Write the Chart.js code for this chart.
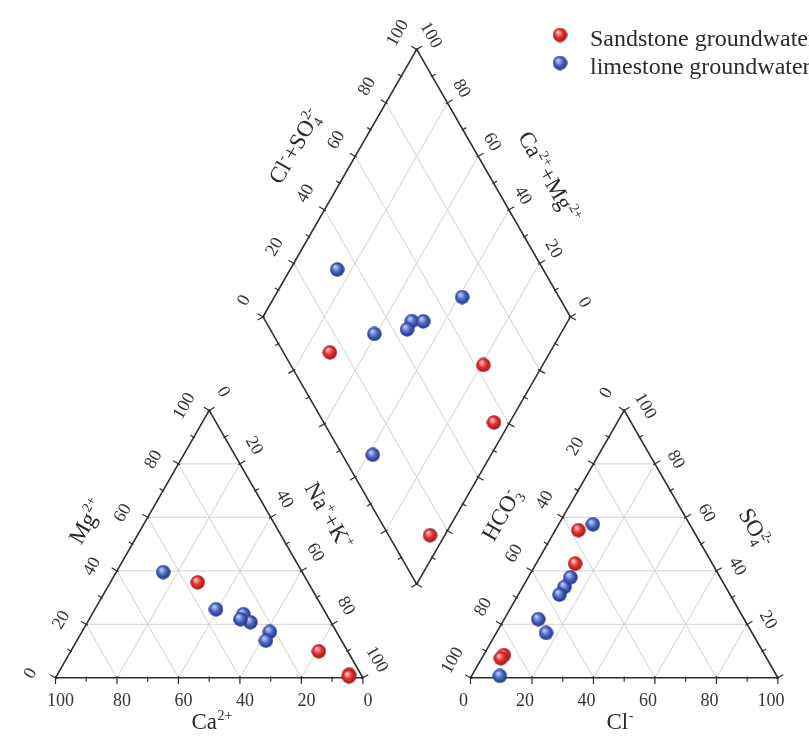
<!DOCTYPE html>
<html>
<head>
<meta charset="utf-8">
<script src="https://cdn.jsdelivr.net/npm/chart.js@4.4.0/dist/chart.umd.min.js"></script>
<style>
html,body{margin:0;padding:0;background:#fff;overflow:hidden}
#wrap{width:809px;height:742px;position:relative}
</style>
</head>
<body>
<div id="wrap"><canvas id="c" width="809" height="742"></canvas></div>
<script>
// ---------------- DATA (meq %) ----------------
const seriesNames = ['Sandstone groundwater', 'limestone groundwater'];
// Sandstone groundwater samples
const sandCa   = [35.9, 9.4, 3.9, 4.3];
const sandMg   = [35.7, 9.9, 1.2, 0.5];
const sandNaK  = [28.4, 80.7, 94.9, 95.2];
const sandHCO3 = [84.9, 37.3, 44.6, 86.5];
const sandCl   = [6.6, 7.5, 12.7, 6.2];
const sandSO4  = [8.5, 55.2, 42.7, 7.3];
// Limestone groundwater samples
const limeCa   = [45.2, 21.7, 27.0, 26.2, 28.9, 35.0, 24.6];
const limeMg   = [39.5, 17.2, 23.8, 20.8, 21.9, 25.6, 13.9];
const limeNaK  = [15.3, 61.1, 49.2, 53.0, 49.2, 39.4, 61.5];
const limeHCO3 = [67.0, 31.5, 52.4, 48.7, 55.5, 67.0, 90.1];
const limeCl   = [11.1, 11.1, 13.6, 13.7, 13.4, 16.2, 9.2];
const limeSO4  = [21.9, 57.4, 34.0, 37.6, 31.1, 16.8, 0.7];
// Axis ticks
const gridSteps = [20, 40, 60, 80];
const tickSteps = [0, 10, 20, 30, 40, 50, 60, 70, 80, 90, 100];
const labelTicks = [0, 20, 40, 60, 80, 100];
const so4LabelTicks = [20, 40, 60, 80, 100];

// ---------------- GEOMETRY (ternary -> plot units) ----------------
const S3 = Math.sqrt(3) / 2;
const GAP = 35;
function cat(ca, mg, na) { const t = ca + mg + na; mg = mg / t * 100; na = na / t * 100; return {x: na + mg / 2, y: mg * S3}; }
function ani(hco3, cl, so4) { const t = hco3 + cl + so4; cl = cl / t * 100; so4 = so4 / t * 100; return {x: 100 + GAP + cl + so4 / 2, y: so4 * S3}; }
const DB = {x: 100 + GAP / 2, y: GAP * S3};
function dia(camg, clso4) { return {x: DB.x + (clso4 - camg) / 2, y: DB.y + (camg + clso4) * S3}; }

function samplePoints(Ca, Mg, NaK, HCO3, Cl, SO4) {
  const pts = [];
  for (let i = 0; i < Ca.length; i++) pts.push(cat(Ca[i], Mg[i], NaK[i]));
  for (let i = 0; i < Ca.length; i++) pts.push(ani(HCO3[i], Cl[i], SO4[i]));
  for (let i = 0; i < Ca.length; i++) {
    const tc = Ca[i] + Mg[i] + NaK[i], ta = HCO3[i] + Cl[i] + SO4[i];
    pts.push(dia((Ca[i] + Mg[i]) / tc * 100, (Cl[i] + SO4[i]) / ta * 100));
  }
  return pts;
}
const BREAK = () => ({x: null, y: null});

// grid lines
const gridData = [];
function seg(arr, a, b) { arr.push(a, b, BREAK()); }
gridSteps.forEach(g => {
  seg(gridData, cat(100 - g, g, 0), cat(0, g, 100 - g));
  seg(gridData, cat(100 - g, 0, g), cat(0, 100 - g, g));
  seg(gridData, cat(g, 0, 100 - g), cat(g, 100 - g, 0));
  seg(gridData, ani(100 - g, 0, g), ani(0, 100 - g, g));
  seg(gridData, ani(100 - g, g, 0), ani(0, g, 100 - g));
  seg(gridData, ani(g, 100 - g, 0), ani(g, 0, 100 - g));
  seg(gridData, dia(g, 0), dia(g, 100));
  seg(gridData, dia(0, g), dia(100, g));
});

// outlines
const outlineData = [
  cat(100, 0, 0), cat(0, 0, 100), cat(0, 100, 0), cat(100, 0, 0), BREAK(),
  ani(100, 0, 0), ani(0, 100, 0), ani(0, 0, 100), ani(100, 0, 0), BREAK(),
  dia(0, 0), dia(0, 100), dia(100, 100), dia(100, 0), dia(0, 0)
];

// axes (position along edge as a function of axis value)
const catC = cat(1, 1, 1), aniC = ani(1, 1, 1), diaC = dia(50, 50);
const R60 = Math.PI / 3;
const axes = [
  {pos: t => cat(t, 0, 100 - t), c: catC, labels: labelTicks, off: [5, 22], rot: 0},          // Ca
  {pos: t => cat(100 - t, t, 0), c: catC, labels: labelTicks, off: [-26, -5], rot: -R60},     // Mg
  {pos: t => cat(0, 100 - t, t), c: catC, labels: labelTicks, off: [15, -19], rot: R60},      // Na+K
  {pos: t => ani(100 - t, t, 0), c: aniC, labels: labelTicks, off: [-7, 22], rot: 0},         // Cl
  {pos: t => ani(t, 0, 100 - t), c: aniC, labels: labelTicks, off: [-19, -18], rot: -R60},    // HCO3
  {pos: t => ani(0, 100 - t, t), c: aniC, labels: so4LabelTicks, off: [22, -5], rot: R60},    // SO4
  {pos: t => dia(100, t), c: diaC, labels: labelTicks, off: [-20, -17], rot: -R60},           // Cl+SO4
  {pos: t => dia(t, 100), c: diaC, labels: labelTicks, off: [15, -15], rot: R60},             // Ca+Mg
  {pos: t => dia(t, 0), c: diaC, labels: [], off: [0, 0], rot: 0},
  {pos: t => dia(0, t), c: diaC, labels: [], off: [0, 0], rot: 0}
];
const tickData = [];
axes.forEach(ax => {
  const a = ax.pos(0), b = ax.pos(100);
  const L = Math.hypot(b.x - a.x, b.y - a.y);
  const d = {x: (b.x - a.x) / L, y: (b.y - a.y) / L};
  tickSteps.forEach(t => {
    const p = ax.pos(t);
    let n = {x: -d.y, y: d.x};
    if (n.x * (p.x - ax.c.x) + n.y * (p.y - ax.c.y) < 0) n = {x: -n.x, y: -n.y};
    const major = t % 20 === 0;
    const o = major ? 2.0 : 1.3, i = major ? 0.6 : 0.4;
    seg(tickData, {x: p.x - n.x * i, y: p.y - n.y * i}, {x: p.x + n.x * o, y: p.y + n.y * o});
  });
});

// axis titles: anchor (plot units), pixel offset, rotation, rich runs
const titles = [
  {a: cat(50, 0, 50), off: [3, 44], rot: 0, runs: [['Ca'], ['2+', 'sup']]},
  {a: cat(50, 50, 0), off: [-46, -23], rot: -R60, runs: [['Mg'], ['2+', 'sup']]},
  {a: cat(0, 50, 50), off: [43, -28], rot: R60, runs: [['Na'], ['+', 'sup'], ['+K'], ['+', 'sup']]},
  {a: ani(50, 50, 0), off: [-4, 44], rot: 0, runs: [['Cl'], ['-', 'sup']]},
  {a: ani(50, 0, 50), off: [-46, -30], rot: -R60, runs: [['HCO'], ['3', 'ss', '-']]},
  {a: ani(0, 50, 50), off: [54, -16], rot: R60, runs: [['SO'], ['4', 'ss', '2-']]},
  {a: dia(100, 50), off: [-45, -37], rot: -R60, runs: [['Cl'], ['-', 'sup'], ['+SO'], ['4', 'ss', '2-']]},
  {a: dia(50, 100), off: [56, -6], rot: R60, runs: [['Ca'], ['2+', 'sup'], ['+Mg'], ['2+', 'sup']]}
];

// ---------------- STYLE ----------------
const FONT = '"Liberation Serif", "Times New Roman", serif';
function sphere(light, base, dark, d) {
  const c = document.createElement('canvas');
  c.width = c.height = d;
  const g = c.getContext('2d');
  const r = d / 2;
  const grd = g.createRadialGradient(r * 0.72, r * 0.62, r * 0.08, r, r, r);
  grd.addColorStop(0, light);
  grd.addColorStop(0.5, base);
  grd.addColorStop(1, dark);
  g.fillStyle = grd;
  g.beginPath(); g.arc(r, r, r - 0.3, 0, Math.PI * 2); g.fill();
  return c;
}
const redBall = sphere('#ffc2c2', '#e2302f', '#9c1414', 15);
const blueBall = sphere('#c0cdf8', '#4a66c6', '#1f2c7c', 15);

// scale ranges so one plot unit ~ 3.14 px horizontally / 3.16 px vertically
const PX = 3.14, PY = 3.16, OX = 48, OY = 685, W = 809, Hh = 742;

function drawRich(ctx, runs, cx, cy, rot, size) {
  const small = Math.round(size * 0.6);
  let w = 0;
  const items = [];
  runs.forEach(r => {
    const type = r[1] || 'n';
    if (type === 'n') { ctx.font = size + 'px ' + FONT; const ww = ctx.measureText(r[0]).width; items.push({t: r[0], type, x: w}); w += ww; }
    else if (type === 'sup') { ctx.font = small + 'px ' + FONT; const ww = ctx.measureText(r[0]).width; items.push({t: r[0], type, x: w}); w += ww + 1; }
    else { ctx.font = small + 'px ' + FONT; const ww = Math.max(ctx.measureText(r[0]).width, ctx.measureText(r[2]).width); items.push({t: r[0], t2: r[2], type, x: w}); w += ww + 1; }
  });
  ctx.save();
  ctx.translate(cx, cy);
  ctx.rotate(rot);
  ctx.textBaseline = 'alphabetic';
  ctx.textAlign = 'left';
  ctx.fillStyle = '#2a2a2a';
  const by = size * 0.33;
  items.forEach(it => {
    const x = it.x - w / 2;
    if (it.type === 'n') { ctx.font = size + 'px ' + FONT; ctx.fillText(it.t, x, by); }
    else if (it.type === 'sup') { ctx.font = small + 'px ' + FONT; ctx.fillText(it.t, x + 0.5, by - size * 0.4); }
    else { ctx.font = small + 'px ' + FONT; ctx.fillText(it.t, x + 0.5, by + size * 0.22); ctx.fillText(it.t2, x + 0.5, by - size * 0.4); }
  });
  ctx.restore();
}

const textPlugin = {
  id: 'piperText',
  afterDraw(chart) {
    const ctx = chart.ctx, xs = chart.scales.x, ys = chart.scales.y;
    // tick labels
    ctx.save();
    ctx.fillStyle = '#333';
    ctx.textAlign = 'center';
    ctx.textBaseline = 'alphabetic';
    const fs = 18;
    ctx.font = fs + 'px ' + FONT;
    axes.forEach(ax => {
      ax.labels.forEach(t => {
        const p = ax.pos(t);
        const px = xs.getPixelForValue(p.x) + ax.off[0];
        const py = ys.getPixelForValue(p.y) + ax.off[1];
        ctx.save();
        ctx.translate(px, py);
        ctx.rotate(ax.rot);
        ctx.fillText(String(t), 0, fs * 0.34);
        ctx.restore();
      });
    });
    ctx.restore();
    // axis titles
    titles.forEach(tt => {
      const px = xs.getPixelForValue(tt.a.x) + tt.off[0];
      const py = ys.getPixelForValue(tt.a.y) + tt.off[1];
      drawRich(ctx, tt.runs, px, py, tt.rot, 23);
    });
    // legend
    const legend = [[redBall, seriesNames[0]], [blueBall, seriesNames[1]]];
    ctx.save();
    ctx.font = '24px ' + FONT;
    ctx.fillStyle = '#2a2a2a';
    ctx.textAlign = 'left';
    ctx.textBaseline = 'alphabetic';
    legend.forEach((L, i) => {
      const cy = 35 + i * 28;
      ctx.drawImage(L[0], 560 - L[0].width / 2, cy - L[0].height / 2);
      ctx.fillText(L[1], 590, cy + 11);
    });
    ctx.restore();
  }
};

const lineDs = (data, color, width, order) => ({
  data, showLine: true, borderColor: color, borderWidth: width, pointRadius: 0,
  pointHoverRadius: 0, fill: false, spanGaps: false, order, clip: false,
  borderCapStyle: 'butt', borderJoinStyle: 'miter', tension: 0
});

new Chart(document.getElementById('c'), {
  type: 'scatter',
  data: {
    datasets: [
      {label: seriesNames[0], data: samplePoints(sandCa, sandMg, sandNaK, sandHCO3, sandCl, sandSO4),
       pointStyle: redBall, pointRadius: 7.5, order: 0, clip: false},
      {label: seriesNames[1], data: samplePoints(limeCa, limeMg, limeNaK, limeHCO3, limeCl, limeSO4),
       pointStyle: blueBall, pointRadius: 7.5, order: 0, clip: false},
      lineDs(outlineData, '#2e2e2e', 1.6, 1),
      lineDs(tickData, '#2e2e2e', 1.2, 2),
      lineDs(gridData, '#d2d2d2', 1, 3)
    ]
  },
  options: {
    responsive: false,
    devicePixelRatio: 1,
    animation: false,
    events: [],
    layout: {padding: 0},
    scales: {
      x: {type: 'linear', display: false, min: -OX / PX, max: (W - OX) / PX},
      y: {type: 'linear', display: false, min: -(Hh - OY) / PY, max: OY / PY}
    },
    plugins: {legend: {display: false}, tooltip: {enabled: false}}
  },
  plugins: [textPlugin]
});
</script>
</body>
</html>
